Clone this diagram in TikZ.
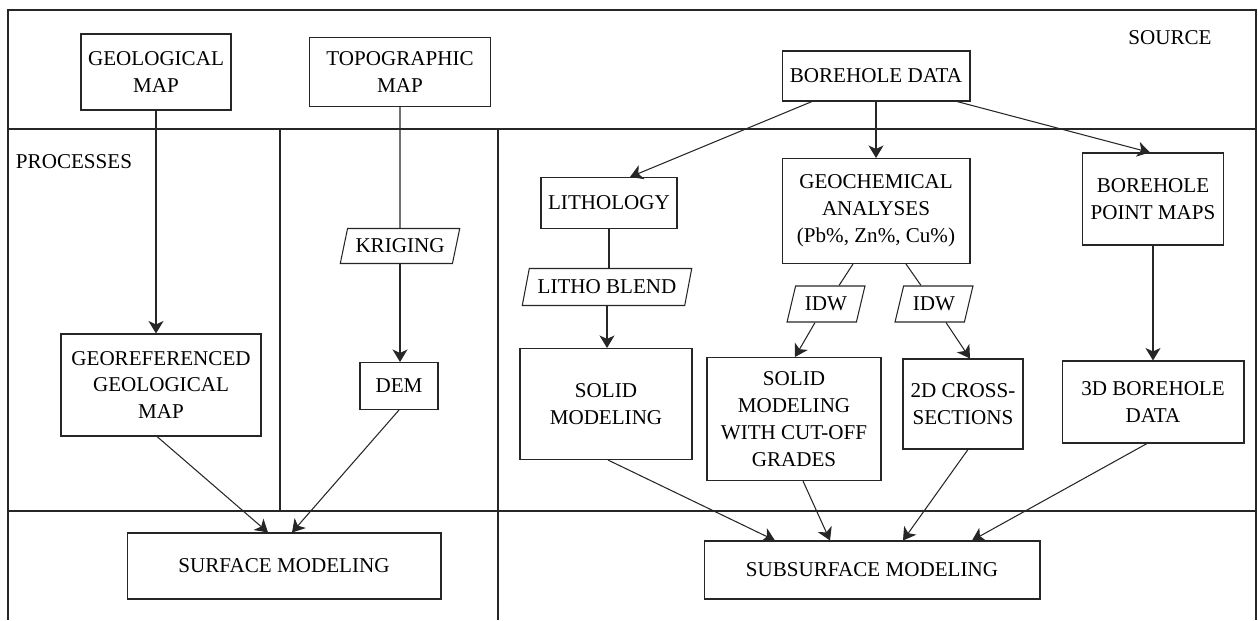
\documentclass[tikz,border=0pt]{standalone}
\usepackage{fontspec}
\setmainfont{Liberation Serif}
\usetikzlibrary{shapes.geometric,arrows.meta,calc}

\tikzset{
  box/.style={draw, rectangle, align=center, inner sep=1pt},
  para/.style={draw, trapezium, trapezium left angle=70, trapezium right angle=110,
    trapezium stretches=true, align=center, inner sep=1pt},
  arr/.style={-{Stealth[length=0.25cm, width=0.3cm, inset=0.07cm]}},
}

\begin{document}
\begin{tikzpicture}[x=0.02cm, y=-0.02cm, line width=0.6pt, draw=black!85,
    font=\fontsize{12}{15.3}\selectfont]
  \useasboundingbox (0,0) rectangle (1258,620);

  % Frame and lanes
  \draw (8,620) -- (8,10) -- (1256,10) -- (1256,620);
  \draw (8,129) -- (1256,129);
  \draw (8,511) -- (1256,511);
  \draw (280,129) -- (280,511);
  \draw (498,129) -- (498,620);

  \node (source) at (1170,38) {SOURCE};
  \node (processes) at (74,162) {PROCESSES};

  % Sources
  \node[box, minimum width=3.0cm, minimum height=1.52cm] (geomap) at (156,72) {GEOLOGICAL\\MAP};
  \node[box, minimum width=3.62cm, minimum height=1.38cm] (topomap) at (400,72) {TOPOGRAPHIC\\MAP};
  \node[box, minimum width=3.76cm, minimum height=1.0cm] (boredata) at (876,76) {BOREHOLE DATA};

  % Processes
  \node[box, minimum width=2.72cm, minimum height=1.02cm] (litho) at (609,203) {LITHOLOGY};
  \node[box, minimum width=3.76cm, minimum height=2.1cm] (geochem) at (876,211) {GEOCHEMICAL\\ANALYSES\\(Pb\%, Zn\%, Cu\%)};
  \node[box, minimum width=2.82cm, minimum height=1.84cm] (pointmaps) at (1153,199) {BOREHOLE\\POINT MAPS};

  \node[para, minimum width=2.4cm, minimum height=0.7cm] (kriging) at (400,246) {KRIGING};
  \node[para, minimum width=3.4cm, minimum height=0.74cm] (lithoblend) at (607,287) {LITHO BLEND};
  \node[para, minimum width=1.56cm, minimum height=0.72cm] (idwa) at (826,304) {IDW};
  \node[para, minimum width=1.56cm, minimum height=0.72cm] (idwb) at (934,304) {IDW};

  \node[box, minimum width=4.0cm, minimum height=2.04cm] (georef) at (161,385) {GEOREFERENCED\\GEOLOGICAL\\MAP};
  \node[box, minimum width=1.56cm, minimum height=0.94cm] (dem) at (399,386) {DEM};
  \node[box, minimum width=3.44cm, minimum height=2.22cm] (solid) at (606,404) {SOLID\\MODELING};
  \node[box, minimum width=3.48cm, minimum height=2.46cm] (solidcut) at (794,419) {SOLID\\MODELING\\WITH CUT-OFF\\GRADES};
  \node[box, minimum width=2.4cm, minimum height=1.8cm] (cross) at (963,404) {2D CROSS-\\SECTIONS};
  \node[box, minimum width=3.64cm, minimum height=1.64cm] (bore3d) at (1153,402) {3D BOREHOLE\\DATA};

  % Models
  \node[box, minimum width=6.28cm, minimum height=1.32cm] (surface) at (284,566) {SURFACE MODELING};
  \node[box, minimum width=6.72cm, minimum height=1.16cm] (subsurface) at (872,570) {SUBSURFACE MODELING};

  % Connectors
  \draw[arr] (geomap.south) -- (geomap.south |- georef.north);
  \draw (topomap.south) -- (kriging.north);
  \draw[arr] (kriging.south) -- (kriging.south |- dem.north);

  \draw[arr] ($(boredata.south)+(-64,0)$) -- ($(litho.north)+(21,0)$);
  \draw[arr] (boredata.south) -- (geochem.north);
  \draw[arr] ($(boredata.south)+(81,0)$) -- ($(pointmaps.north)+(-3,0)$);

  \draw (litho.south) -- (litho.south |- lithoblend.north);
  \draw[arr] (lithoblend.south) -- (lithoblend.south |- solid.north);

  \draw ($(geochem.south)+(-23,0)$) -- ($(idwa.north)+(13,0)$);
  \draw[arr] ($(idwa.south)+(-11,0)$) -- ($(solidcut.north)+(1,0)$);
  \draw ($(geochem.south)+(30,0)$) -- ($(idwb.north)+(-13,0)$);
  \draw[arr] ($(idwb.south)+(12,0)$) -- ($(cross.north)+(7,0)$);

  \draw[arr] (pointmaps.south) -- (pointmaps.south |- bore3d.north);

  \draw[arr] ($(georef.south)+(-4,0)$) -- ($(surface.north)+(-16,0)$);
  \draw[arr] (dem.south) -- ($(surface.north)+(8,0)$);

  \draw[arr] ($(solid.south)+(2,0)$) -- ($(subsurface.north)+(-97,0)$);
  \draw[arr] ($(solidcut.south)+(9,0)$) -- ($(subsurface.north)+(-42,0)$);
  \draw[arr] ($(cross.south)+(5,0)$) -- ($(subsurface.north)+(31,0)$);
  \draw[arr] ($(bore3d.south)+(-6,0)$) -- ($(subsurface.north)+(100,0)$);
\end{tikzpicture}
\end{document}
